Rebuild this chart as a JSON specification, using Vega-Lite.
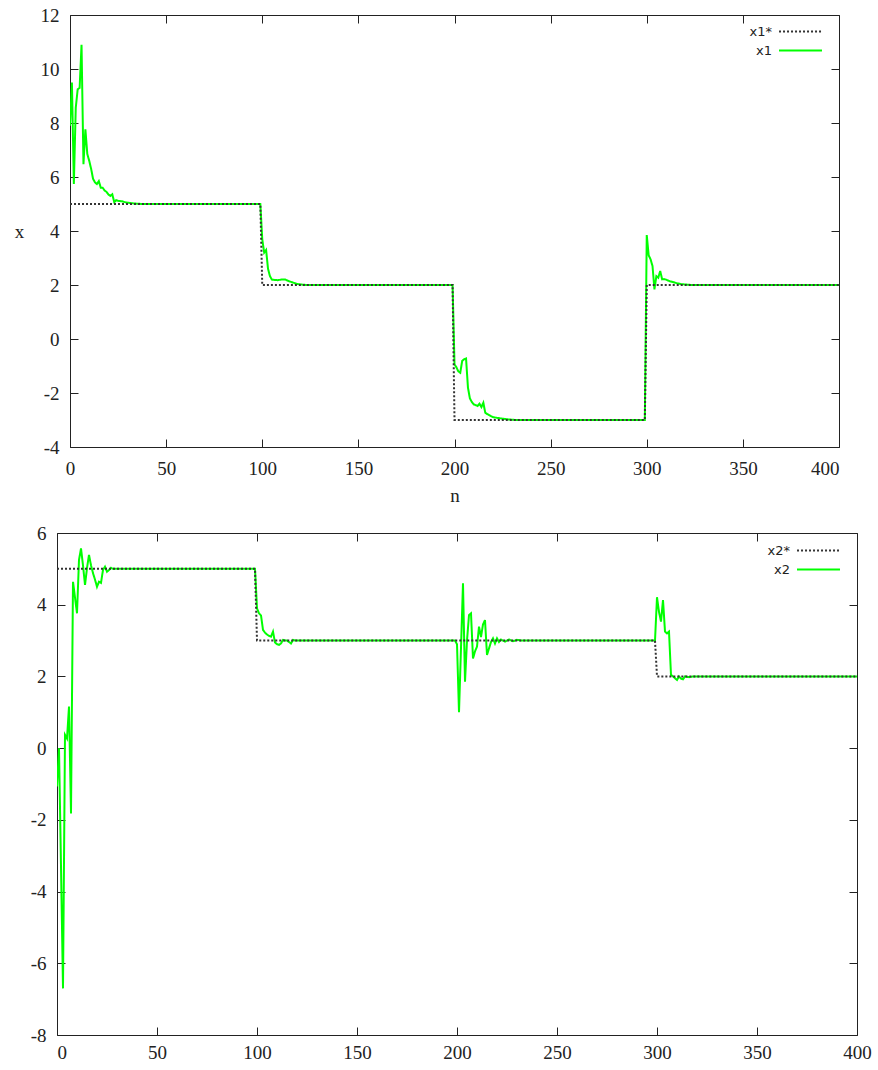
{
  "$schema": "https://vega.github.io/schema/vega-lite/v6.json",
  "background": "white",
  "padding": {"left": 13, "top": 5, "right": 0, "bottom": 0},
  "config": {
    "view": {"stroke": "#222222", "strokeWidth": 1},
    "axis": {
      "labelFont": "Liberation Serif", "labelFontSize": 19, "labelColor": "#222222",
      "titleFont": "Liberation Serif", "titleFontSize": 19, "titleFontWeight": "normal", "titleColor": "#222222",
      "grid": false, "domain": false, "tickColor": "#222222", "tickSize": -8, "tickWidth": 1
    },
    "legend": {
      "symbolType": "M-3,0H3", "symbolSize": 205, "symbolStrokeWidth": 2,
      "labelFont": "DejaVu Sans", "labelFontSize": 13, "labelColor": "#222222",
      "labelAlign": "right", "labelOffset": -37, "rowPadding": 3
    }
  },
  "datasets": {
    "top": [
      {"n": 0, "value": 5, "series": "x1*"}, {"n": 99, "value": 5, "series": "x1*"}, {"n": 100, "value": 2, "series": "x1*"}, {"n": 199, "value": 2, "series": "x1*"}, {"n": 200, "value": -3, "series": "x1*"}, {"n": 299, "value": -3, "series": "x1*"}, {"n": 300, "value": 2, "series": "x1*"}, {"n": 400, "value": 2, "series": "x1*"},
      {"n": 0, "value": 7.9, "series": "x1"}, {"n": 1, "value": 9.5, "series": "x1"}, {"n": 2, "value": 5.74, "series": "x1"}, {"n": 3, "value": 8.57, "series": "x1"}, {"n": 4, "value": 9.25, "series": "x1"}, {"n": 5, "value": 9.3, "series": "x1"}, {"n": 6, "value": 10.9, "series": "x1"}, {"n": 7, "value": 6.47, "series": "x1"}, {"n": 8, "value": 7.77, "series": "x1"}, {"n": 9, "value": 6.85, "series": "x1"}, {"n": 10, "value": 6.6, "series": "x1"}, {"n": 11, "value": 6.3, "series": "x1"}, {"n": 12, "value": 5.93, "series": "x1"}, {"n": 13, "value": 5.8, "series": "x1"}, {"n": 14, "value": 5.74, "series": "x1"}, {"n": 15, "value": 5.85, "series": "x1"}, {"n": 16, "value": 5.6, "series": "x1"}, {"n": 17, "value": 5.6, "series": "x1"}, {"n": 18, "value": 5.5, "series": "x1"}, {"n": 19, "value": 5.45, "series": "x1"}, {"n": 20, "value": 5.35, "series": "x1"}, {"n": 21, "value": 5.3, "series": "x1"}, {"n": 22, "value": 5.36, "series": "x1"}, {"n": 23, "value": 5.07, "series": "x1"}, {"n": 24, "value": 5.14, "series": "x1"}, {"n": 25, "value": 5.12, "series": "x1"}, {"n": 26, "value": 5.11, "series": "x1"}, {"n": 27, "value": 5.1, "series": "x1"}, {"n": 28, "value": 5.08, "series": "x1"}, {"n": 29, "value": 5.06, "series": "x1"}, {"n": 30, "value": 5.05, "series": "x1"}, {"n": 32, "value": 5.03, "series": "x1"}, {"n": 35, "value": 5.01, "series": "x1"}, {"n": 38, "value": 5.0, "series": "x1"}, {"n": 99, "value": 5.0, "series": "x1"},
      {"n": 100, "value": 3.7, "series": "x1"}, {"n": 101, "value": 3.2, "series": "x1"}, {"n": 102, "value": 3.3, "series": "x1"}, {"n": 103, "value": 2.6, "series": "x1"}, {"n": 104, "value": 2.33, "series": "x1"}, {"n": 105, "value": 2.2, "series": "x1"}, {"n": 106, "value": 2.19, "series": "x1"}, {"n": 108, "value": 2.18, "series": "x1"}, {"n": 110, "value": 2.2, "series": "x1"}, {"n": 112, "value": 2.2, "series": "x1"}, {"n": 114, "value": 2.14, "series": "x1"}, {"n": 116, "value": 2.09, "series": "x1"}, {"n": 118, "value": 2.04, "series": "x1"}, {"n": 120, "value": 2.02, "series": "x1"}, {"n": 123, "value": 2.0, "series": "x1"}, {"n": 199, "value": 2.0, "series": "x1"},
      {"n": 200, "value": -0.94, "series": "x1"}, {"n": 201, "value": -1.05, "series": "x1"}, {"n": 202, "value": -1.2, "series": "x1"}, {"n": 203, "value": -1.25, "series": "x1"}, {"n": 204, "value": -0.81, "series": "x1"}, {"n": 205, "value": -0.75, "series": "x1"}, {"n": 206, "value": -0.72, "series": "x1"}, {"n": 207, "value": -1.8, "series": "x1"}, {"n": 208, "value": -2.2, "series": "x1"}, {"n": 209, "value": -2.33, "series": "x1"}, {"n": 210, "value": -2.42, "series": "x1"}, {"n": 211, "value": -2.45, "series": "x1"}, {"n": 212, "value": -2.48, "series": "x1"}, {"n": 213, "value": -2.4, "series": "x1"}, {"n": 214, "value": -2.52, "series": "x1"}, {"n": 215, "value": -2.36, "series": "x1"}, {"n": 216, "value": -2.73, "series": "x1"}, {"n": 217, "value": -2.78, "series": "x1"}, {"n": 218, "value": -2.82, "series": "x1"}, {"n": 219, "value": -2.86, "series": "x1"}, {"n": 220, "value": -2.89, "series": "x1"}, {"n": 222, "value": -2.92, "series": "x1"}, {"n": 225, "value": -2.95, "series": "x1"}, {"n": 228, "value": -2.98, "series": "x1"}, {"n": 232, "value": -3.0, "series": "x1"}, {"n": 299, "value": -3.0, "series": "x1"},
      {"n": 300, "value": 3.85, "series": "x1"}, {"n": 301, "value": 3.1, "series": "x1"}, {"n": 302, "value": 2.95, "series": "x1"}, {"n": 303, "value": 2.7, "series": "x1"}, {"n": 304, "value": 1.84, "series": "x1"}, {"n": 305, "value": 2.33, "series": "x1"}, {"n": 306, "value": 2.27, "series": "x1"}, {"n": 307, "value": 2.52, "series": "x1"}, {"n": 308, "value": 2.21, "series": "x1"}, {"n": 309, "value": 2.22, "series": "x1"}, {"n": 310, "value": 2.2, "series": "x1"}, {"n": 312, "value": 2.14, "series": "x1"}, {"n": 314, "value": 2.1, "series": "x1"}, {"n": 316, "value": 2.06, "series": "x1"}, {"n": 318, "value": 2.03, "series": "x1"}, {"n": 320, "value": 2.02, "series": "x1"}, {"n": 323, "value": 2.0, "series": "x1"}, {"n": 400, "value": 2.0, "series": "x1"}
    ],
    "bottom": [
      {"n": 0, "value": 5, "series": "x2*"}, {"n": 99, "value": 5, "series": "x2*"}, {"n": 100, "value": 3, "series": "x2*"}, {"n": 299, "value": 3, "series": "x2*"}, {"n": 300, "value": 2, "series": "x2*"}, {"n": 400, "value": 2, "series": "x2*"},
      {"n": 0, "value": -1.07, "series": "x2"}, {"n": 1, "value": 0.0, "series": "x2"}, {"n": 2, "value": -3.3, "series": "x2"}, {"n": 3, "value": -6.7, "series": "x2"}, {"n": 4, "value": 0.37, "series": "x2"}, {"n": 5, "value": 0.27, "series": "x2"}, {"n": 6, "value": 1.16, "series": "x2"}, {"n": 7, "value": -1.82, "series": "x2"}, {"n": 8, "value": 4.64, "series": "x2"}, {"n": 9, "value": 4.2, "series": "x2"}, {"n": 10, "value": 3.76, "series": "x2"}, {"n": 11, "value": 5.25, "series": "x2"}, {"n": 12, "value": 5.57, "series": "x2"}, {"n": 13, "value": 5.1, "series": "x2"}, {"n": 14, "value": 4.55, "series": "x2"}, {"n": 15, "value": 5.02, "series": "x2"}, {"n": 16, "value": 5.39, "series": "x2"}, {"n": 17, "value": 5.1, "series": "x2"}, {"n": 18, "value": 4.88, "series": "x2"}, {"n": 19, "value": 4.7, "series": "x2"}, {"n": 20, "value": 4.5, "series": "x2"}, {"n": 21, "value": 4.64, "series": "x2"}, {"n": 22, "value": 4.61, "series": "x2"}, {"n": 23, "value": 4.97, "series": "x2"}, {"n": 24, "value": 5.06, "series": "x2"}, {"n": 25, "value": 4.92, "series": "x2"}, {"n": 26, "value": 4.97, "series": "x2"}, {"n": 27, "value": 5.03, "series": "x2"}, {"n": 28, "value": 5.0, "series": "x2"}, {"n": 99, "value": 5.0, "series": "x2"},
      {"n": 100, "value": 3.9, "series": "x2"}, {"n": 101, "value": 3.76, "series": "x2"}, {"n": 102, "value": 3.7, "series": "x2"}, {"n": 103, "value": 3.3, "series": "x2"}, {"n": 104, "value": 3.22, "series": "x2"}, {"n": 105, "value": 3.17, "series": "x2"}, {"n": 106, "value": 3.13, "series": "x2"}, {"n": 107, "value": 3.11, "series": "x2"}, {"n": 108, "value": 3.25, "series": "x2"}, {"n": 109, "value": 2.95, "series": "x2"}, {"n": 110, "value": 2.9, "series": "x2"}, {"n": 111, "value": 2.88, "series": "x2"}, {"n": 112, "value": 2.92, "series": "x2"}, {"n": 113, "value": 3.02, "series": "x2"}, {"n": 114, "value": 3.0, "series": "x2"}, {"n": 115, "value": 3.0, "series": "x2"}, {"n": 116, "value": 2.96, "series": "x2"}, {"n": 117, "value": 2.92, "series": "x2"}, {"n": 118, "value": 3.02, "series": "x2"}, {"n": 119, "value": 3.0, "series": "x2"}, {"n": 199, "value": 3.0, "series": "x2"},
      {"n": 200, "value": 2.9, "series": "x2"}, {"n": 201, "value": 1.0, "series": "x2"}, {"n": 202, "value": 2.8, "series": "x2"}, {"n": 203, "value": 4.6, "series": "x2"}, {"n": 204, "value": 1.85, "series": "x2"}, {"n": 205, "value": 3.0, "series": "x2"}, {"n": 206, "value": 3.71, "series": "x2"}, {"n": 207, "value": 3.76, "series": "x2"}, {"n": 208, "value": 2.5, "series": "x2"}, {"n": 209, "value": 2.7, "series": "x2"}, {"n": 210, "value": 2.83, "series": "x2"}, {"n": 211, "value": 3.39, "series": "x2"}, {"n": 212, "value": 3.1, "series": "x2"}, {"n": 213, "value": 3.45, "series": "x2"}, {"n": 214, "value": 3.57, "series": "x2"}, {"n": 215, "value": 2.6, "series": "x2"}, {"n": 216, "value": 2.78, "series": "x2"}, {"n": 217, "value": 2.96, "series": "x2"}, {"n": 218, "value": 3.06, "series": "x2"}, {"n": 219, "value": 2.92, "series": "x2"}, {"n": 220, "value": 3.06, "series": "x2"}, {"n": 221, "value": 2.96, "series": "x2"}, {"n": 222, "value": 3.03, "series": "x2"}, {"n": 224, "value": 2.97, "series": "x2"}, {"n": 226, "value": 3.03, "series": "x2"}, {"n": 228, "value": 2.98, "series": "x2"}, {"n": 230, "value": 3.02, "series": "x2"}, {"n": 232, "value": 3.0, "series": "x2"}, {"n": 299, "value": 3.0, "series": "x2"},
      {"n": 300, "value": 4.21, "series": "x2"}, {"n": 301, "value": 3.8, "series": "x2"}, {"n": 302, "value": 3.53, "series": "x2"}, {"n": 303, "value": 4.13, "series": "x2"}, {"n": 304, "value": 3.25, "series": "x2"}, {"n": 305, "value": 3.2, "series": "x2"}, {"n": 306, "value": 3.25, "series": "x2"}, {"n": 307, "value": 2.04, "series": "x2"}, {"n": 308, "value": 2.0, "series": "x2"}, {"n": 309, "value": 1.95, "series": "x2"}, {"n": 310, "value": 1.9, "series": "x2"}, {"n": 311, "value": 2.0, "series": "x2"}, {"n": 312, "value": 1.94, "series": "x2"}, {"n": 313, "value": 1.92, "series": "x2"}, {"n": 314, "value": 2.0, "series": "x2"}, {"n": 316, "value": 1.98, "series": "x2"}, {"n": 318, "value": 2.0, "series": "x2"}, {"n": 400, "value": 2.0, "series": "x2"}
    ]
  },
  "spacing": 17,
  "resolve": {"scale": {"color": "independent", "strokeDash": "independent"}, "legend": {"color": "independent", "strokeDash": "independent"}},
  "vconcat": [
    {
      "spacing": -45,
      "resolve": {"scale": {"color": "independent", "strokeDash": "independent"}, "legend": {"color": "independent", "strokeDash": "independent"}},
      "hconcat": [
        {"width": 1, "height": 1, "data": {"values": []}, "mark": "point", "encoding": {}, "view": {"stroke": null}},
        {
          "width": 769, "height": 432,
          "data": {"name": "top"},
          "layer": [
            {
              "transform": [{"filter": "datum.series == 'x1'"}],
              "mark": {"type": "line", "strokeWidth": 2, "clip": true},
              "encoding": {
                "x": {"field": "n", "type": "quantitative", "scale": {"domain": [0, 400], "nice": false}, "axis": {"orient": "bottom", "values": [0, 50, 100, 150, 200, 250, 300, 350, 400], "title": "n", "labelPadding": 20, "titlePadding": 8, "labelFlush": false, "labelAlign": {"condition": {"test": "datum.value == 400", "value": "right"}, "value": "center"}}},
                "y": {"field": "value", "type": "quantitative", "scale": {"domain": [-4, 12], "nice": false, "zero": false}, "axis": {"orient": "left", "values": [-4, -2, 0, 2, 4, 6, 8, 10, 12], "labelExpr": "datum.value < 0 ? '-' + (-datum.value) : '' + datum.value", "title": "x", "titleAngle": 0, "titleBaseline": "middle", "titlePadding": 21, "labelPadding": 19}},
                "color": {"field": "series", "type": "nominal", "scale": {"domain": ["x1*", "x1"], "range": ["#333333", "#00ff00"]}, "legend": {"title": null, "orient": "none", "legendX": 722, "legendY": 8}},
                "strokeDash": {"field": "series", "type": "nominal", "scale": {"domain": ["x1*", "x1"], "range": [[2, 2], [1, 0]]}, "legend": {"title": null, "orient": "none", "legendX": 722, "legendY": 8}}
              }
            },
            {
              "transform": [{"filter": "datum.series == 'x1*'"}],
              "mark": {"type": "line", "strokeWidth": 2, "clip": true},
              "encoding": {
                "x": {"field": "n", "type": "quantitative", "axis": {"orient": "top", "values": [0, 50, 100, 150, 200, 250, 300, 350, 400], "labels": false, "title": null}},
                "y": {"field": "value", "type": "quantitative", "axis": {"orient": "right", "values": [-4, -2, 0, 2, 4, 6, 8, 10, 12], "labels": false, "title": null}},
                "color": {"field": "series", "type": "nominal"},
                "strokeDash": {"field": "series", "type": "nominal"}
              }
            }
          ],
          "resolve": {"axis": {"x": "independent", "y": "independent"}}
        }
      ]
    },
    {
      "width": 800, "height": 502,
      "data": {"name": "bottom"},
      "layer": [
        {
          "transform": [{"filter": "datum.series == 'x2'"}],
          "mark": {"type": "line", "strokeWidth": 2, "clip": true},
          "encoding": {
            "x": {"field": "n", "type": "quantitative", "scale": {"domain": [0, 400], "nice": false}, "axis": {"orient": "bottom", "values": [0, 50, 100, 150, 200, 250, 300, 350, 400], "title": null, "labelPadding": 16, "labelFlush": false, "labelAlign": {"condition": {"test": "datum.value == 0", "value": "left"}, "value": "center"}}},
            "y": {"field": "value", "type": "quantitative", "scale": {"domain": [-8, 6], "nice": false, "zero": false}, "axis": {"orient": "left", "values": [-8, -6, -4, -2, 0, 2, 4, 6], "labelExpr": "datum.value < 0 ? '-' + (-datum.value) : '' + datum.value", "title": null, "labelPadding": 19}},
            "color": {"field": "series", "type": "nominal", "scale": {"domain": ["x2*", "x2"], "range": ["#333333", "#00ff00"]}, "legend": {"title": null, "orient": "none", "legendX": 753, "legendY": 9}},
            "strokeDash": {"field": "series", "type": "nominal", "scale": {"domain": ["x2*", "x2"], "range": [[2, 2], [1, 0]]}, "legend": {"title": null, "orient": "none", "legendX": 753, "legendY": 9}}
          }
        },
        {
          "transform": [{"filter": "datum.series == 'x2*'"}],
          "mark": {"type": "line", "strokeWidth": 2, "clip": true},
          "encoding": {
            "x": {"field": "n", "type": "quantitative", "axis": {"orient": "top", "values": [0, 50, 100, 150, 200, 250, 300, 350, 400], "labels": false, "title": null}},
            "y": {"field": "value", "type": "quantitative", "axis": {"orient": "right", "values": [-8, -6, -4, -2, 0, 2, 4, 6], "labels": false, "title": null}},
            "color": {"field": "series", "type": "nominal"},
            "strokeDash": {"field": "series", "type": "nominal"}
          }
        }
      ],
      "resolve": {"axis": {"x": "independent", "y": "independent"}}
    }
  ]
}
